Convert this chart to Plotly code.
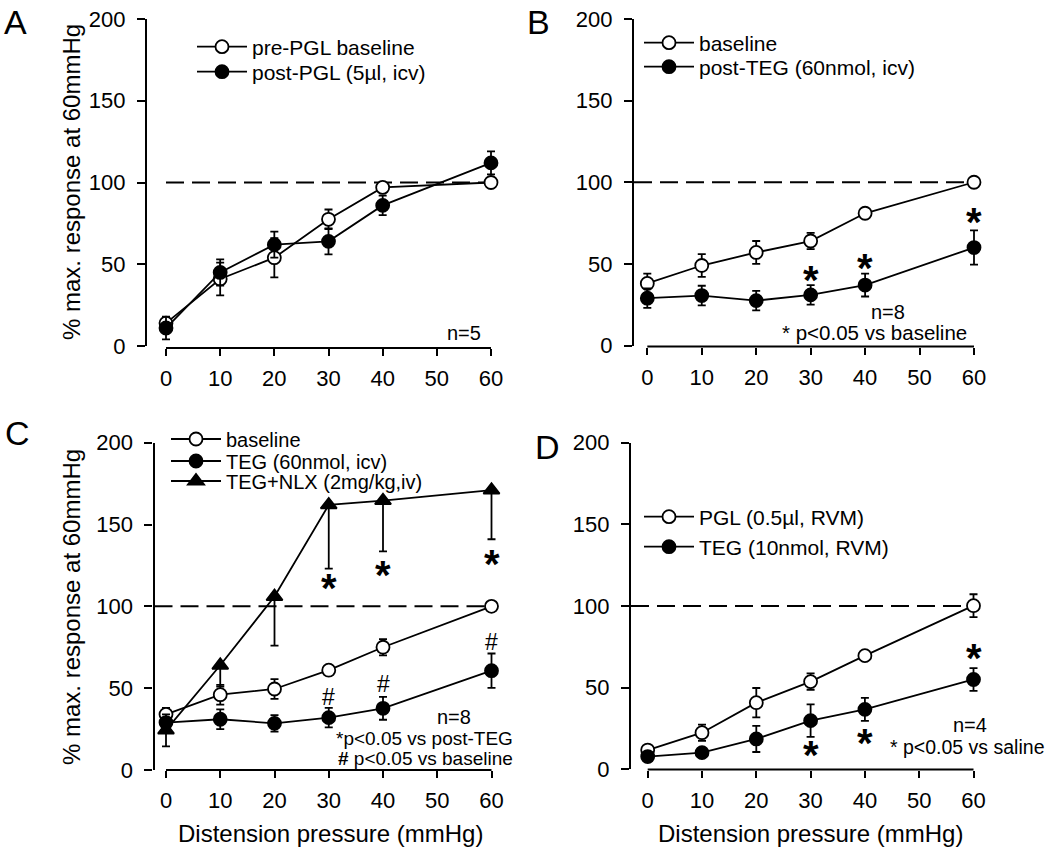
import plotly.graph_objects as go

W, H = 1050, 856
FONT = "Liberation Sans, Arial, sans-serif"

# ---------------- data ----------------
pressure = [0, 10, 20, 30, 40, 60]
x_ticks = [0, 10, 20, 30, 40, 50, 60]
y_ticks = [0, 50, 100, 150, 200]
ref_level = 100

# Panel A
a_pre = [14, 41, 54, 77.5, 97, 100]
a_pre_err = [3, 10, 12, 6, 2, 0]
a_post = [11, 45, 62, 64, 86, 112]
a_post_err = [7, 8, 8, 8, 6, 7]

# Panel B
b_base = [38, 49, 57, 64, 81, 100]
b_base_err = [6, 7, 7, 5, 3, 0]
b_teg = [29, 30.6, 27.5, 31, 37, 60]
b_teg_err = [6, 6, 6, 6, 7, 10.5]
b_star_x = [30, 40, 60]
b_star_y = [43, 50.5, 79]

# Panel C
c_base = [34, 46, 49.5, 61, 75, 100]
c_base_err = [4, 6, 6, 2, 5, 0]
c_teg = [29, 31, 28.5, 32, 37.7, 60.7]
c_teg_err = [5, 6, 5, 6, 7, 10.5]
c_nlx = [24.4, 64, 106, 162, 164.6, 171]
c_nlx_err_low = [10, 13, 30, 39, 31, 30]
c_star_x = [30, 40, 60]
c_star_y = [114, 122, 129]
c_hash_x = [30, 40, 60]
c_hash_y = [44.4, 52.5, 78]

# Panel D
d_pgl = [11.8, 22.4, 40.8, 53.7, 69.6, 100.2]
d_pgl_err = [2, 5, 9, 5, 2, 7]
d_teg = [7.8, 10.2, 18.6, 29.8, 36.7, 55]
d_teg_err = [2, 2, 8, 10, 7, 7]
d_star_x = [30, 40, 60]
d_star_y = [11.8, 19, 71]


def fx(px):
    return px / W


def fy(py):
    return 1 - py / H


# panel geometry in pixels
geo = {
    1: dict(ax=147, x0=166, x60=491, y0=346, y200=19, xline=348),
    2: dict(ax=634, x0=647.3, x60=974, y0=345.5, y200=19, xline=346.5),
    3: dict(ax=154.5, x0=166, x60=491.5, y0=770, y200=442.7, xline=770),
    4: dict(ax=631, x0=647.7, x60=973.5, y0=769.3, y200=442.7, xline=769.5),
}

fig = go.Figure()
layout = dict(
    width=W, height=H, margin=dict(l=0, r=0, t=0, b=0, pad=0, autoexpand=False),
    paper_bgcolor="white", plot_bgcolor="rgba(0,0,0,0)",
    font=dict(family=FONT, color="black"),
    annotations=[], shapes=[],
)

for i, g in geo.items():
    ppu = (g["x60"] - g["x0"]) / 60.0
    xlo = (g["ax"] - g["x0"]) / ppu
    xhi = 62
    right_px = g["x0"] + xhi * ppu
    sfx = "" if i == 1 else str(i)
    layout["xaxis" + sfx] = dict(
        domain=[fx(g["ax"]), fx(right_px)], range=[xlo, xhi],
        anchor="free", position=fy(g["xline"]),
        showline=False, showgrid=False, zeroline=False,
        tickvals=x_ticks, ticks="outside", ticklen=7, tickwidth=2, tickcolor="black",
        tickfont=dict(size=22, family=FONT), ticklabelstandoff=4,
    )
    layout["yaxis" + sfx] = dict(
        domain=[fy(g["y0"]), fy(g["y200"])], range=[0, 200],
        anchor="x" + sfx, showline=True, linewidth=2.2, linecolor="black",
        showgrid=False, zeroline=False,
        tickvals=y_ticks, ticks="outside", ticklen=8, tickwidth=2, tickcolor="black",
        tickfont=dict(size=22, family=FONT), ticklabelstandoff=7,
    )
    layout["shapes"].append(dict(
        type="line", xref="x" + sfx, yref="paper", x0=x_ticks[0], x1=x_ticks[-1],
        y0=fy(g["xline"]), y1=fy(g["xline"]), line=dict(color="black", width=2.2)))
    g["xlo"] = xlo


def series(i, y, err, name, symbol, fill, legend, err_low=None):
    sfx = "" if i == 1 else str(i)
    if err_low is not None:
        ey = dict(type="data", symmetric=False, array=[0] * len(err_low), arrayminus=err_low,
                  color="black", thickness=1.8, width=4)
    else:
        ey = dict(type="data", array=err, color="black", thickness=1.8, width=4)
    fig.add_trace(go.Scatter(
        x=pressure, y=y, name=name, mode="lines+markers",
        xaxis="x" + sfx, yaxis="y" + sfx, legend=legend,
        line=dict(color="black", width=1.8),
        marker=dict(symbol=symbol, size=14 if "triangle" in symbol else 13,
                    color=fill, line=dict(color="black", width=1.8)),
        error_y=ey, cliponaxis=False,
    ))


def ref_line(i, start):
    sfx = "" if i == 1 else str(i)
    fig.add_trace(go.Scatter(
        x=[start, pressure[-1]], y=[ref_level, ref_level], mode="lines",
        xaxis="x" + sfx, yaxis="y" + sfx, showlegend=False, hoverinfo="skip",
        line=dict(color="black", width=2, dash="18px,8px")))


ref_line(1, 0)
ref_line(2, geo[2]["xlo"])
ref_line(3, geo[3]["xlo"])
ref_line(4, geo[4]["xlo"])

series(1, a_pre, a_pre_err, "pre-PGL baseline", "circle", "white", "legend")
series(1, a_post, a_post_err, "post-PGL (5\u00b5l, icv)", "circle", "black", "legend2")

series(2, b_base, b_base_err, "baseline", "circle", "white", "legend3")
series(2, b_teg, b_teg_err, "post-TEG (60nmol, icv)", "circle", "black", "legend4")

series(3, c_base, c_base_err, "baseline", "circle", "white", "legend5")
series(3, c_teg, c_teg_err, "TEG (60nmol, icv)", "circle", "black", "legend6")
series(3, c_nlx, None, "TEG+NLX (2mg/kg,iv)", "triangle-up", "black", "legend7",
       err_low=c_nlx_err_low)

series(4, d_pgl, d_pgl_err, "PGL (0.5\u00b5l, RVM)", "circle", "white", "legend8")
series(4, d_teg, d_teg_err, "TEG (10nmol, RVM)", "circle", "black", "legend9")

IW = 50
leg_common = dict(bgcolor="rgba(0,0,0,0)", borderwidth=0, font=dict(size=21, family=FONT),
                  xanchor="left", yanchor="middle", itemwidth=IW, tracegroupgap=0)
# (marker centre x, row centre y) of each legend entry, in px
leg_pos = {
    "legend": (220, 47), "legend2": (220, 72),
    "legend3": (667, 43), "legend4": (667, 67),
    "legend5": (194, 439), "legend6": (194, 461), "legend7": (194, 481),
    "legend8": (667, 517), "legend9": (667, 547),
}
for name, (mx, my) in leg_pos.items():
    size = 20 if name in ("legend5", "legend6", "legend7") else 21
    layout[name] = dict(leg_common, x=fx(mx - 3 - IW / 2), y=fy(my),
                        font=dict(size=size, family=FONT))

ann = layout["annotations"]


def txt(text, x, y, size=19, xanchor="center", xref="paper", yref="paper", **kw):
    ann.append(dict(text=text, x=x, y=y, xref=xref, yref=yref, showarrow=False,
                    xanchor=xanchor, yanchor="middle",
                    font=dict(size=size, family=FONT, color="black"), **kw))


# panel letters
txt("A", fx(15), fy(22), size=34)
txt("B", fx(538), fy(22), size=34)
txt("C", fx(17), fy(433), size=34)
txt("D", fx(547), fy(447), size=34)

# axis titles
ytitle = "% max. response at 60mmHg"
txt(ytitle, fx(71), fy(182), size=24, textangle=-90)
txt(ytitle, fx(71), fy(607), size=24, textangle=-90)
xtitle = "Distension pressure (mmHg)"
txt(xtitle, fx(330), fy(833), size=24)
txt(xtitle, fx(810), fy(833), size=24)

# notes
txt("n=5", fx(464), fy(333), size=20)
txt("n=8", fx(888), fy(312), size=20)
txt("* p<0.05 vs baseline", fx(874), fy(332), size=20.5)
txt("n=8", fx(454), fy(717), size=20)
txt("*p<0.05 vs post-TEG", fx(515), fy(738), xanchor="right")
txt("<b>#</b> p<0.05 vs baseline", fx(515), fy(758), xanchor="right")
txt("n=4", fx(970), fy(725), size=20)
txt("* p<0.05 vs saline", fx(1046), fy(747), xanchor="right", size=19.5)

# significance markers
for xs, ys, ax in [(b_star_x, b_star_y, "2"), (c_star_x, c_star_y, "3"), (d_star_x, d_star_y, "4")]:
    for xv, yv in zip(xs, ys):
        txt("<b>*</b>", xv, yv, size=40, xref="x" + ax, yref="y" + ax, yshift=-5)
for xv, yv in zip(c_hash_x, c_hash_y):
    txt("#", xv, yv, size=23, xref="x3", yref="y3")

fig.update_layout(**layout)
fig.write_html(
    "out.html",
    config={"displayModeBar": False},
    post_script="document.body.style.margin='0';document.body.style.overflow='hidden';",
)
